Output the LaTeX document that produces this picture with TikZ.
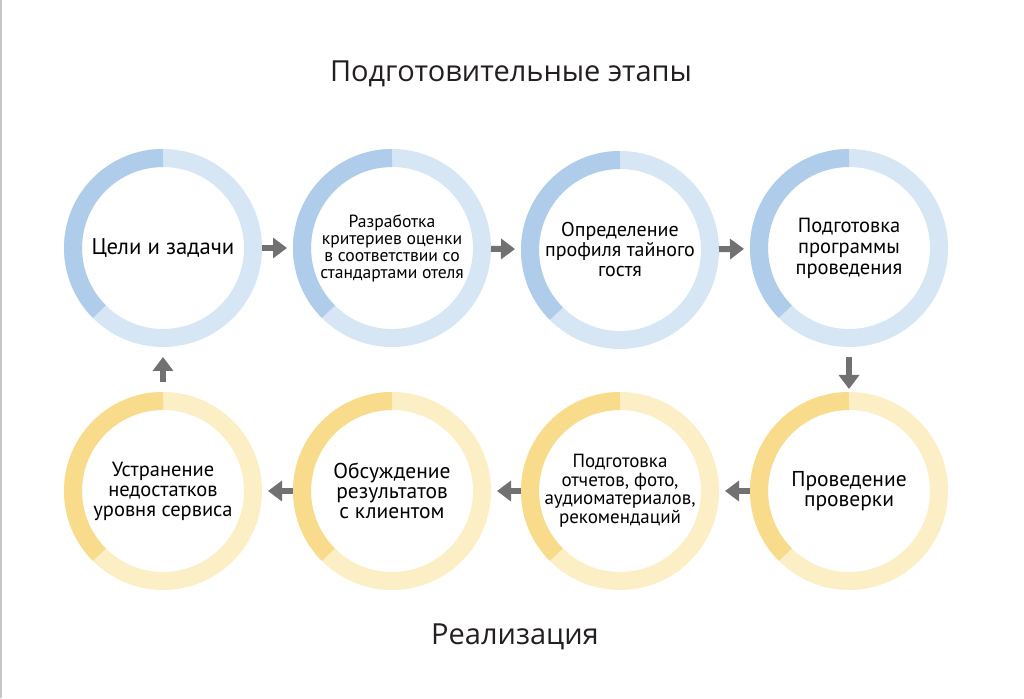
\documentclass[tikz,border=0pt]{standalone}
\usepackage{fontspec}
\setmainfont{PT Sans}
\newfontfamily\headfont{Open Sans}
\usetikzlibrary{arrows.meta}

\definecolor{bluedark}{HTML}{AFCDEB}
\definecolor{bluelight}{HTML}{D6E6F5}
\definecolor{yeldark}{HTML}{F8DC8B}
\definecolor{yellight}{HTML}{FCEEC5}
\definecolor{arrowgray}{HTML}{717171}
\definecolor{textdark}{HTML}{231F20}

\tikzset{
  ring/.style={circle, draw=#1, line width=18pt, minimum size=180pt,
    inner sep=0pt, outer sep=9pt, align=center, text=black},
  flow/.style={draw=arrowgray, line width=6pt,
    -{Triangle[width=20pt,length=14pt]}},
  headline/.style={font=\headfont\fontsize{29}{32}\selectfont, text=textdark}
}

\begin{document}
\begin{tikzpicture}[x=1pt,y=1pt]
  \useasboundingbox (0,0) rectangle (1024,698);
  \draw[gray!45, line width=1.5pt] (1,0) -- (1,698);

  % ─────────── headlines ─────────────────────────────────────────────
  \node[headline] (prep) at (511,624) {Подготовительные этапы};
  \node[headline] (impl) at (515,61) {Реализация};

  % ─────────── top row (y=450) ───────────────────────────────────────
  \node[ring=bluelight, font=\fontsize{22.7}{23}\selectfont] (goals) at (163,450)
    {Цели и задачи};
  \node[ring=bluelight, font=\fontsize{17.6}{17}\selectfont] (criteria) at (392,450)
    {Разработка\\критериев оценки\\в соответствии со\\стандартами отеля};
  \node[ring=bluelight, font=\fontsize{20}{20}\selectfont] (profile) at (620,448)
    {Определение\\профиля тайного\\гостя};
  \node[ring=bluelight, font=\fontsize{20.5}{21}\selectfont] (program) at (849,450)
    {Подготовка\\программы\\проведения};

  % ─────────── bottom row (y=207) ────────────────────────────────────
  \node[ring=yellight, font=\fontsize{21.5}{20.5}\selectfont] (audit) at (849,207)
    {Проведение\\проверки};
  \node[ring=yellight, font=\fontsize{19}{18.5}\selectfont] (reports) at (620,207)
    {Подготовка\\отчетов, фото,\\аудиоматериалов,\\рекомендаций};
  \node[ring=yellight, font=\fontsize{21.5}{20}\selectfont] (discuss) at (392,207)
    {Обсуждение\\результатов\\с клиентом};
  \node[ring=yellight, font=\fontsize{20.5}{20}\selectfont] (fix) at (163,207)
    {Устранение\\недостатков\\уровня сервиса};

  % ─────────── dark quarter arcs ─────────────────────────────────────
  \foreach \r/\c in {goals/bluedark, criteria/bluedark, profile/bluedark,
                     program/bluedark, audit/yeldark, reports/yeldark,
                     discuss/yeldark, fix/yeldark}
    \draw[\c, line width=18pt] ([shift={(90:90)}]\r.center)
      arc[start angle=90, end angle=225, radius=90];

  % ─────────── arrows ────────────────────────────────────────────────
  \draw[flow, shorten >=6pt] (goals) -- (criteria);
  \draw[flow, shorten >=6pt] (criteria) -- (profile);
  \draw[flow, shorten >=6pt] (profile) -- (program);
  \draw[flow, shorten <=10pt, shorten >=3pt] (program) -- (audit);
  \draw[flow, shorten >=6pt] (audit) -- (reports);
  \draw[flow, shorten >=6pt] (reports) -- (discuss);
  \draw[flow, shorten >=6pt] (discuss) -- (fix);
  \draw[flow, shorten <=10pt, shorten >=10pt] (fix) -- (goals);
\end{tikzpicture}
\end{document}
